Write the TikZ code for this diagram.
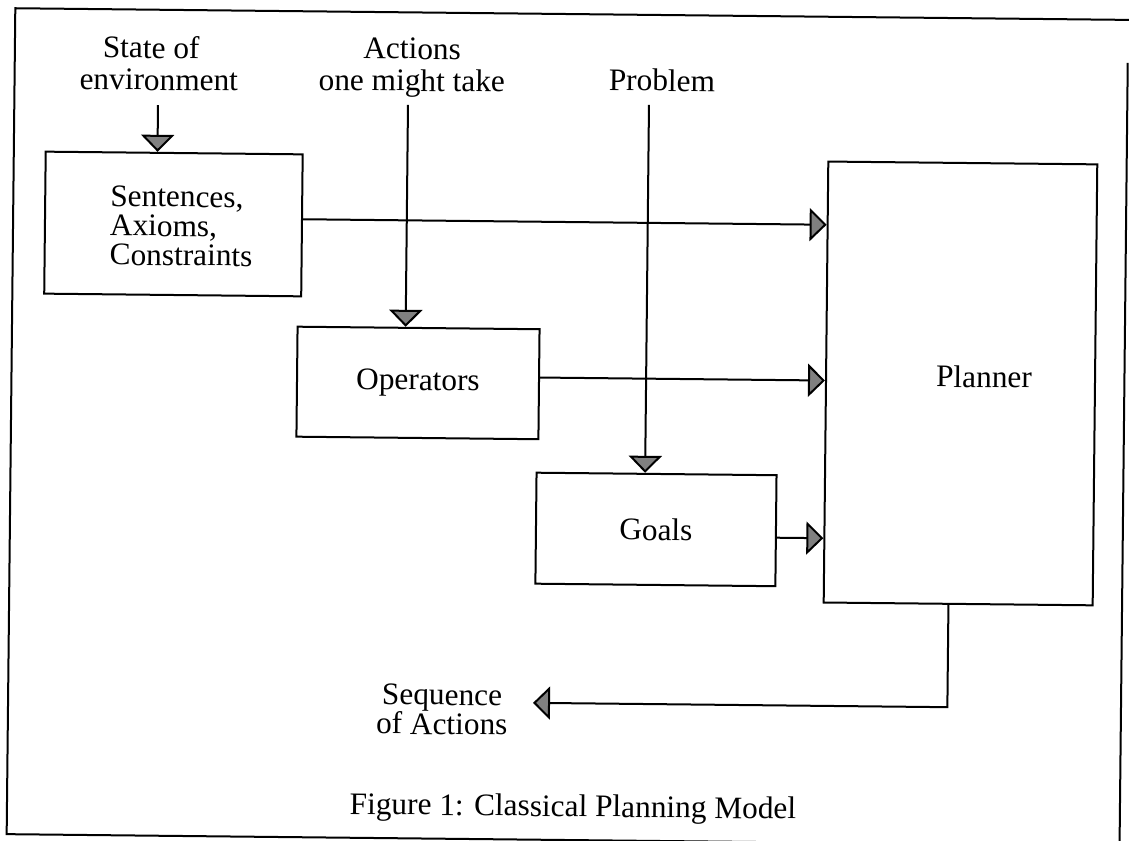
\documentclass[tikz,border=0pt]{standalone}
\usepackage{fontspec}
\setmainfont{Liberation Serif}
\usetikzlibrary{arrows.meta,calc}
\newdimen\pxu \pxu=0.75pt
\begin{document}
\begin{tikzpicture}[x=0.75pt,y=-0.75pt,
  every node/.style={font=\fontsize{23.5}{24}\selectfont, inner sep=0pt},
  block/.style={draw, line width=1.5pt, rectangle},
  lbl/.style={align=center},
  wire/.style={line width=1.5pt},
  flow/.style={line width=1.5pt, -{Triangle[width=24.75pt,length=12.75pt,fill=black!50]}}]
\useasboundingbox (0,0) rectangle (1129,841);
\clip (0,0) rectangle (1129,841);
\begin{scope}[rotate around={-0.6:(565,420)}, transform shape]
  % outer frame
  \draw[wire] (1140,14) -- (11,14) -- (11,840) -- (1124,840) -- (1124,57);

  % inputs at the top
  \node[lbl] (state) at (155.3,67.6) {State of\hspace*{16\pxu}\\environment};
  \node[lbl] (acts) at (408.3,69.6) {Actions\\one might take};
  \node (prob) at (658.4,79.3) {Problem};

  % blocks
  \node[block, minimum width=257\pxu, minimum height=142\pxu] (sent) at (171.4,228.1) {};
  \node[lbl, align=left, font=\fontsize{23.5}{22}\selectfont] (senttxt) at ($(sent.center)+(8,2)$) {Sentences,\\Axioms,\\Constraints};
  \node[block, minimum width=242\pxu, minimum height=110\pxu] (ops) at (417.6,384.5) {Operators};
  \node[block, minimum width=240\pxu, minimum height=111\pxu] (goals) at (657.1,528.5) {Goals};
  \node[block, minimum width=269\pxu, minimum height=441\pxu] (plan) at (960.1,379.3) {};
  \node (plantxt) at ($(plan.center)+(23.5,-7)$) {Planner};

  % output and caption
  \node[lbl, font=\fontsize{23.5}{22}\selectfont] (seq) at (445,710.8) {Sequence\\of Actions};
  \node (cap) at (577,809) {Figure 1: Classical Planning Model};

  % free ends of the connectors
  \coordinate (s0) at (154.7,109.3);
  \coordinate (a0) at (404.7,106.6);
  \coordinate (p0) at (645.7,104.1);
  \coordinate (outx) at (950.4,0);
  \coordinate (seqtip) at (536,703.2);

  % connectors
  \draw[flow] (s0) -- (s0 |- sent.north);
  \draw[flow] (a0) -- (a0 |- ops.north);
  \draw[flow] (p0) -- (p0 |- goals.north);
  \draw[flow] (sent.east |- 0,222) -- (plan.west |- 0,222);
  \draw[flow] (ops.east |- 0,377.8) -- (plan.west |- 0,377.8);
  \draw[flow] (goals.east |- 0,535.5) -- (plan.west |- 0,535.5);
  \draw[flow] (plan.south -| outx) |- (seqtip);
\end{scope}
\end{tikzpicture}
\end{document}
